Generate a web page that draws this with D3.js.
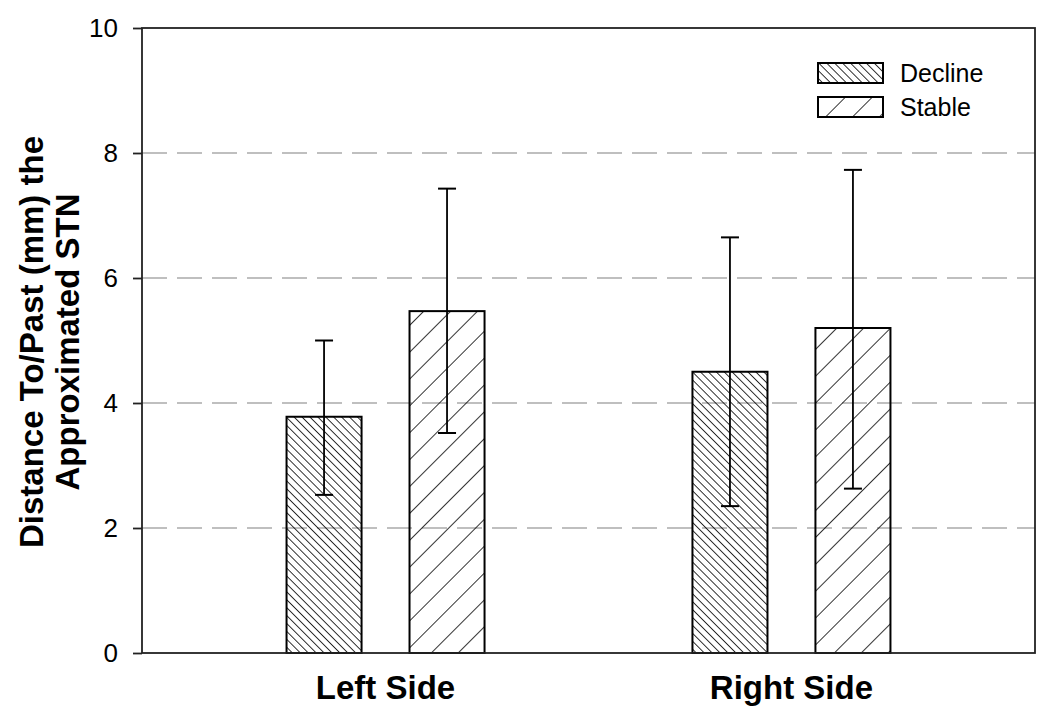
<!DOCTYPE html>
<html>
<head>
<meta charset="utf-8">
<script src="https://cdn.jsdelivr.net/npm/d3@7"></script>
<style>
  body { margin: 0; background: #fff; }
  svg { font-family: "Liberation Sans", Arial, sans-serif; }
</style>
</head>
<body>
<svg id="chart" width="1050" height="722"></svg>
<script>
var categories = ["Left Side", "Right Side"];
var seriesNames = ["Decline", "Stable"];
var means = [[3.78, 5.47], [4.50, 5.20]];
var errLow = [[2.53, 3.52], [2.35, 2.63]];
var errHigh = [[5.00, 7.43], [6.65, 7.73]];
var yTicks = [0, 2, 4, 6, 8, 10];

var svg = d3.select("#chart");
var margin = {left: 142, right: 15, top: 28, bottom: 69};
var width = 1050 - margin.left - margin.right;
var height = 722 - margin.top - margin.bottom;

// hatch patterns
var defs = svg.append("defs");
defs.append("pattern")
    .attr("id", "hatchDecline")
    .attr("patternUnits", "userSpaceOnUse")
    .attr("width", 5.6).attr("height", 5.6)
    .attr("patternTransform", "rotate(-45)")
    .append("line")
    .attr("x1", 0).attr("y1", 0).attr("x2", 0).attr("y2", 5.6)
    .attr("stroke", "#000").attr("stroke-width", 1.6);
defs.append("pattern")
    .attr("id", "hatchStable")
    .attr("patternUnits", "userSpaceOnUse")
    .attr("width", 19).attr("height", 19)
    .attr("patternTransform", "rotate(45)")
    .append("line")
    .attr("x1", 0).attr("y1", 0).attr("x2", 0).attr("y2", 19)
    .attr("stroke", "#000").attr("stroke-width", 1.6);
var fills = {"Decline": "url(#hatchDecline)", "Stable": "url(#hatchStable)"};

var g = svg.append("g").attr("transform", "translate(" + margin.left + "," + margin.top + ")");

var y = d3.scaleLinear().domain([0, 10]).range([height, 0]);
var x0 = d3.scalePoint().domain(categories).range([0, width]).padding(0.6);
var x1 = d3.scaleBand().domain(seriesNames).range([-99, 99]).paddingInner(0.39);

// gridlines
g.selectAll(".grid").data(yTicks.filter(d => d > 0 && d < 10))
    .enter().append("line")
    .attr("x1", 0).attr("x2", width)
    .attr("y1", d => y(d)).attr("y2", d => y(d))
    .attr("stroke", "#aaa").attr("stroke-width", 1.5)
    .attr("stroke-dasharray", "25,10");

// bars
categories.forEach(function(cat, i) {
    seriesNames.forEach(function(s, j) {
        var bx = x0(cat) + x1(s);
        g.append("rect")
            .attr("x", bx).attr("y", y(means[i][j]))
            .attr("width", x1.bandwidth())
            .attr("height", height - y(means[i][j]))
            .attr("fill", fills[s])
            .attr("stroke", "#000").attr("stroke-width", 2);
        var cx = bx + x1.bandwidth() / 2;
        g.append("line")
            .attr("x1", cx).attr("x2", cx)
            .attr("y1", y(errLow[i][j])).attr("y2", y(errHigh[i][j]))
            .attr("stroke", "#000").attr("stroke-width", 1.8);
        [errLow[i][j], errHigh[i][j]].forEach(function(v) {
            g.append("line")
                .attr("x1", cx - 9).attr("x2", cx + 9)
                .attr("y1", y(v)).attr("y2", y(v))
                .attr("stroke", "#000").attr("stroke-width", 2);
        });
    });
});

// frame
g.append("rect")
    .attr("x", 0).attr("y", 0).attr("width", width).attr("height", height)
    .attr("fill", "none").attr("stroke", "#222").attr("stroke-width", 1.8);

// y axis
var yAxis = g.append("g").call(d3.axisLeft(y).tickValues(yTicks).tickSize(9).tickPadding(15));
yAxis.select(".domain").remove();
yAxis.selectAll("line").attr("stroke", "#222").attr("stroke-width", 1.8);
yAxis.selectAll("text").attr("font-size", 26).attr("fill", "#000")
    .style("font-family", "'Liberation Sans', Arial, sans-serif");

// x axis labels
g.selectAll(".xlab").data(categories).enter().append("text")
    .attr("x", d => x0(d)).attr("y", 699 - margin.top)
    .attr("text-anchor", "middle")
    .attr("font-size", 33).attr("font-weight", "bold")
    .text(d => d);

// y title
var yt = svg.append("text")
    .attr("transform", "translate(0,342) rotate(-90)")
    .attr("text-anchor", "middle")
    .attr("font-size", 33).attr("font-weight", "bold");
yt.append("tspan").attr("x", 0).attr("y", 43).text("Distance To/Past (mm) the");
yt.append("tspan").attr("x", 0).attr("y", 79).text("Approximated STN");

// legend
var legend = svg.append("g").attr("transform", "translate(818,63)");
seriesNames.forEach(function(s, i) {
    var row = legend.append("g").attr("transform", "translate(0," + (i * 34) + ")");
    row.append("rect").attr("width", 65).attr("height", 20)
        .attr("fill", fills[s]).attr("stroke", "#000").attr("stroke-width", 2);
    row.append("text").attr("x", 82).attr("y", 19)
        .attr("font-size", 25).text(s);
});
</script>
</body>
</html>
